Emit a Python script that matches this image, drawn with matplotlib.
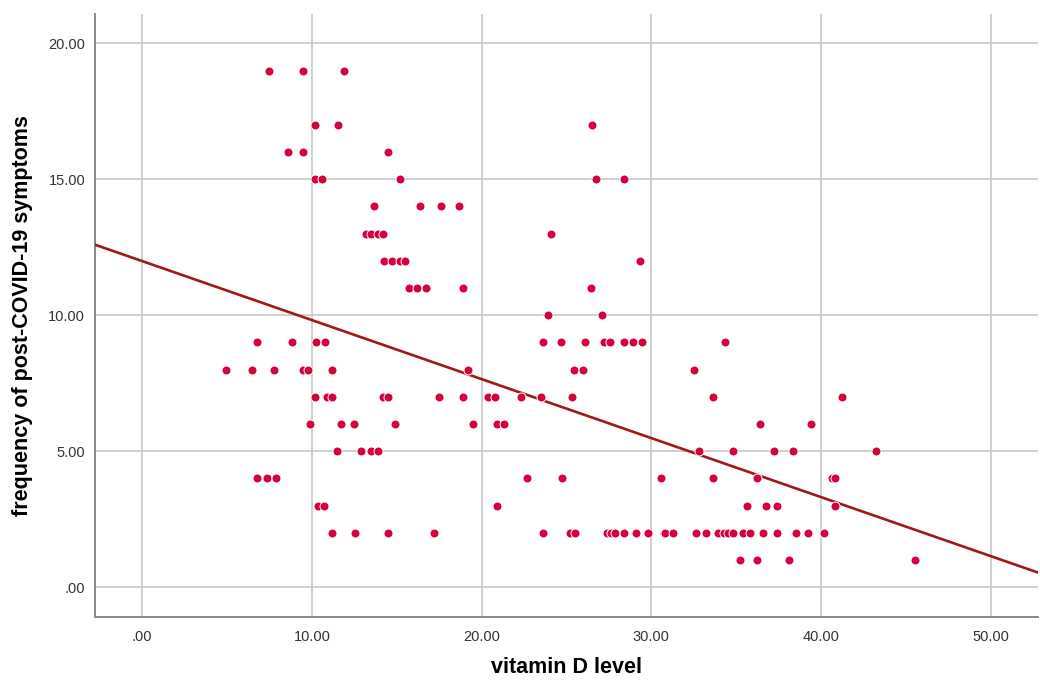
"""Scatter of post-COVID-19 symptom frequency against vitamin D level, SPSS style."""

import matplotlib

matplotlib.use("Agg")
import matplotlib.pyplot as plt
import numpy as np

plt.rcParams["font.family"] = ["Liberation Sans", "DejaVu Sans"]

# points, grouped by symptom count
symptom_rows = {
    1: [35.22, 36.22, 38.12, 45.56],
    2: [11.18, 12.56, 14.49, 17.21, 23.59, 25.22, 25.52, 27.39, 27.62, 27.88,
        28.41, 29.10, 29.81, 30.76, 30.83, 31.25, 32.62, 33.24, 33.92, 34.28,
        34.51, 34.83, 35.42, 35.84, 36.55, 37.41, 38.55, 39.24, 40.15],
    3: [10.36, 10.69, 20.89, 35.63, 36.74, 37.43, 40.85],
    4: [6.77, 7.36, 7.87, 22.70, 24.71, 30.55, 33.63, 36.23, 40.62, 40.85],
    5: [11.46, 12.88, 13.47, 13.88, 32.82, 34.84, 37.24, 38.33, 43.26],
    6: [9.86, 11.70, 12.48, 14.88, 19.49, 20.89, 21.32, 36.43, 39.43],
    7: [10.18, 10.87, 11.20, 14.16, 14.49, 17.48, 18.90, 20.37, 20.79, 22.29,
        23.49, 25.30, 33.63, 41.25],
    8: [4.94, 6.46, 7.76, 9.47, 9.77, 11.18, 19.18, 25.42, 25.95, 32.53],
    9: [6.77, 8.84, 10.26, 10.79, 23.59, 24.69, 26.11, 27.19, 27.54, 28.41,
        28.90, 29.42, 34.34],
    10: [23.90, 27.11],
    11: [15.73, 16.20, 16.70, 18.90, 26.42],
    12: [14.23, 14.69, 15.18, 15.48, 29.32],
    13: [13.17, 13.50, 13.88, 14.20, 24.10],
    14: [13.66, 16.38, 17.58, 18.68],
    15: [10.18, 10.57, 15.18, 26.72, 28.41],
    16: [8.56, 9.47, 14.49],
    17: [10.18, 11.56, 26.52],
    19: [7.46, 9.47, 11.87],
}

vitamin_d = [x for xs in symptom_rows.values() for x in xs]
symptoms = [y for y, xs in symptom_rows.items() for _ in xs]

# fit line as drawn in the reference
fit_intercept = 11.99
fit_slope = -0.217

x_ticks = [0, 10, 20, 30, 40, 50]
y_ticks = [0, 5, 10, 15, 20]
x_limits = (-2.79, 52.78)
y_limits = (-1.10, 21.08)


def tick_text(value):
    return ".00" if value == 0 else f"{value:.2f}"


fig = plt.figure(figsize=(10.4, 6.83), dpi=100)
ax = fig.add_axes([0.0913, 0.0966, 0.9067, 0.8829])

ax.set_xlim(*x_limits)
ax.set_ylim(*y_limits)
ax.set_xticks(x_ticks)
ax.set_yticks(y_ticks)
ax.set_xticklabels([tick_text(v) for v in x_ticks])
ax.set_yticklabels([tick_text(v) for v in y_ticks])
ax.tick_params(length=0, labelsize=10.5, labelcolor="#333333")
ax.tick_params(axis="x", pad=9)
ax.tick_params(axis="y", pad=7)
ax.grid(True, color="#cccccc", linewidth=1.3)
ax.set_axisbelow(True)

for side in ("top", "right"):
    ax.spines[side].set_visible(False)
for side in ("left", "bottom"):
    ax.spines[side].set_color("#888888")
    ax.spines[side].set_linewidth(1.4)

line_x = np.array(x_limits)
ax.plot(line_x, fit_intercept + fit_slope * line_x, color="#a01818",
        linewidth=1.9, zorder=3)

ax.scatter(vitamin_d, symptoms, s=42, color="#d6003b", edgecolors="white",
           linewidths=0.7, zorder=4)

xlabel = ax.set_xlabel("vitamin D level", fontsize=15.5, fontweight="bold")
ylabel = ax.set_ylabel("frequency of post-COVID-19 symptoms", fontsize=15.5,
                       fontweight="bold")
xlabel.set_va("center")
ylabel.set_va("center")
ax.xaxis.set_label_coords(0.5, -0.083)
ax.yaxis.set_label_coords(-0.0764, 0.5)

fig.savefig("out.png", dpi=100)
